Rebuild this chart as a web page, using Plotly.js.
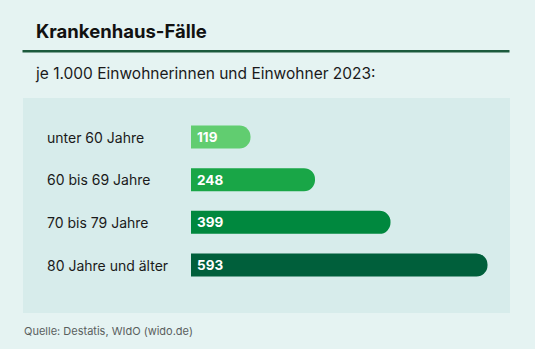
<!DOCTYPE html>
<html>
<head>
<meta charset="utf-8">
<script src="https://cdn.plot.ly/plotly-3.0.1.min.js"></script>
<style>html,body{margin:0;padding:0;background:#e5f3f2;}#chart{width:535px;height:349px;}</style>
</head>
<body>
<div id="chart"></div>
<script>
const categories = ["unter 60 Jahre", "60 bis 69 Jahre", "70 bis 79 Jahre", "80 Jahre und älter"];
const values = [119, 248, 399, 593];
const barColors = ["#61cd70", "#19a647", "#00883e", "#005f3b"];
const titleText = "Krankenhaus-Fälle";
const subtitleText = "je 1.000 Einwohnerinnen und Einwohner 2023:";
const sourceText = "Quelle: Destatis, WIdO (wido.de)";

const W = 535, H = 349;
const FONT = "Inter, 'DejaVu Sans', sans-serif";
const px = v => v / W;
const py = v => (H - v) / H;

const trace = {
  type: "bar",
  orientation: "h",
  x: values,
  y: categories,
  width: 0.54,
  marker: { color: barColors, line: { width: 0 } },
  hoverinfo: "skip"
};

const annotations = [];
categories.forEach((c, i) => {
  annotations.push({
    xref: "paper", yref: "y", x: px(45), y: c, xanchor: "left", yanchor: "middle",
    text: c, showarrow: false, font: { family: FONT, size: 14, color: "#1a1a1a" }
  });
  annotations.push({
    xref: "x", yref: "y", x: 0, y: c, xanchor: "left", yanchor: "middle", xshift: 4,
    text: "<b>" + values[i] + "</b>", showarrow: false, font: { family: FONT, size: 13.5, color: "#ffffff" }
  });
});
annotations.push({
  xref: "paper", yref: "paper", x: px(34), y: py(30.5), xanchor: "left", yanchor: "middle",
  text: "<b>" + titleText + "</b>", showarrow: false, font: { family: FONT, size: 18.5, color: "#111111" }
});
annotations.push({
  xref: "paper", yref: "paper", x: px(33), y: py(73), xanchor: "left", yanchor: "middle",
  text: subtitleText, showarrow: false, font: { family: FONT, size: 15.5, color: "#1a1a1a" }
});
annotations.push({
  xref: "paper", yref: "paper", x: px(22), y: py(330.5), xanchor: "left", yanchor: "middle",
  text: sourceText, showarrow: false, font: { family: FONT, size: 11, color: "#5a5f5e" }
});

const layout = {
  width: W, height: H,
  margin: { l: 0, r: 0, t: 0, b: 0, pad: 0 },
  paper_bgcolor: "#e5f3f2",
  plot_bgcolor: "rgba(0,0,0,0)",
  showlegend: false,
  barcornerradius: 11,
  xaxis: { domain: [px(191), px(510)], range: [0, (510 - 191) / 0.5], visible: false, fixedrange: true },
  yaxis: { type: "category", categoryarray: categories, range: [3.5, -0.5],
           domain: [py(286.33), py(115.67)], visible: false, fixedrange: true },
  shapes: [
    { type: "rect", xref: "paper", yref: "paper", x0: px(23), x1: px(510), y0: py(313), y1: py(98),
      fillcolor: "#d7eceb", line: { width: 0 }, layer: "below" },
    { type: "line", xref: "paper", yref: "paper", x0: px(22.5), x1: px(509.5), y0: py(51.2), y1: py(51.2),
      line: { color: "#1c5a3d", width: 2.6 } }
  ],
  annotations: annotations
};

Plotly.newPlot("chart", [trace], layout, { displayModeBar: false, staticPlot: true });
</script>
</body>
</html>
